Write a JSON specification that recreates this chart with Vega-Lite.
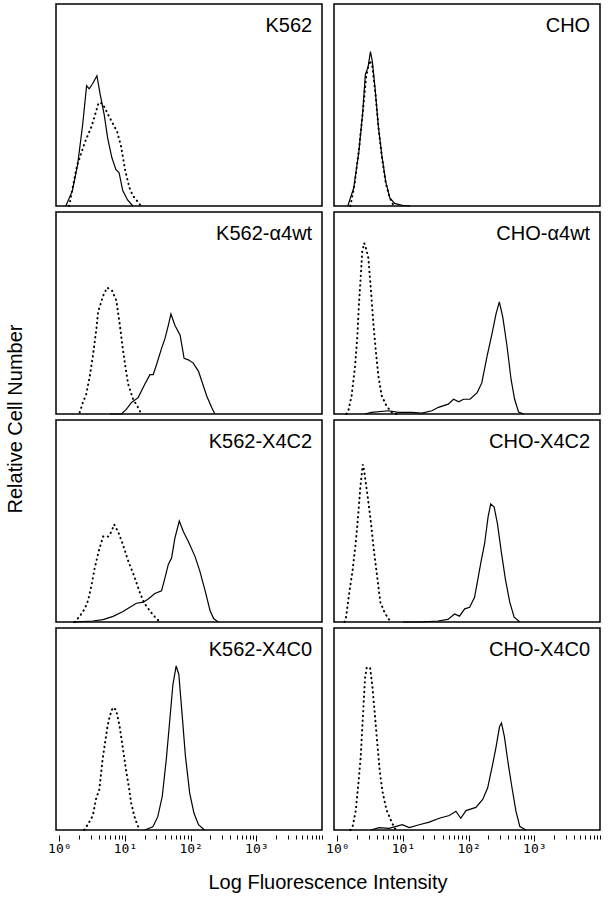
{
  "$schema": "https://vega.github.io/schema/vega-lite/v6.json",
  "padding": {"left": 5, "top": 3, "right": 2, "bottom": 2},
  "background": "white",
  "data": {"values": [
    {"cell":"K562","clone":"parent","panel":"K562","series":"solid","logI":0.10,"pct":0},
    {"cell":"K562","clone":"parent","panel":"K562","series":"solid","logI":0.20,"pct":7.6},
    {"cell":"K562","clone":"parent","panel":"K562","series":"solid","logI":0.28,"pct":20.6},
    {"cell":"K562","clone":"parent","panel":"K562","series":"solid","logI":0.355,"pct":40},
    {"cell":"K562","clone":"parent","panel":"K562","series":"solid","logI":0.416,"pct":59.5},
    {"cell":"K562","clone":"parent","panel":"K562","series":"solid","logI":0.456,"pct":58},
    {"cell":"K562","clone":"parent","panel":"K562","series":"solid","logI":0.507,"pct":60.5},
    {"cell":"K562","clone":"parent","panel":"K562","series":"solid","logI":0.573,"pct":64.5},
    {"cell":"K562","clone":"parent","panel":"K562","series":"solid","logI":0.624,"pct":55},
    {"cell":"K562","clone":"parent","panel":"K562","series":"solid","logI":0.685,"pct":45},
    {"cell":"K562","clone":"parent","panel":"K562","series":"solid","logI":0.736,"pct":33.7},
    {"cell":"K562","clone":"parent","panel":"K562","series":"solid","logI":0.80,"pct":24},
    {"cell":"K562","clone":"parent","panel":"K562","series":"solid","logI":0.863,"pct":18},
    {"cell":"K562","clone":"parent","panel":"K562","series":"solid","logI":0.91,"pct":16.6},
    {"cell":"K562","clone":"parent","panel":"K562","series":"solid","logI":0.966,"pct":7.6},
    {"cell":"K562","clone":"parent","panel":"K562","series":"solid","logI":1.04,"pct":3},
    {"cell":"K562","clone":"parent","panel":"K562","series":"solid","logI":1.12,"pct":0},
    {"cell":"K562","clone":"parent","panel":"K562","series":"dotted","logI":0.15,"pct":0},
    {"cell":"K562","clone":"parent","panel":"K562","series":"dotted","logI":0.268,"pct":19.8},
    {"cell":"K562","clone":"parent","panel":"K562","series":"dotted","logI":0.395,"pct":32},
    {"cell":"K562","clone":"parent","panel":"K562","series":"dotted","logI":0.492,"pct":39.4},
    {"cell":"K562","clone":"parent","panel":"K562","series":"dotted","logI":0.60,"pct":51.2},
    {"cell":"K562","clone":"parent","panel":"K562","series":"dotted","logI":0.66,"pct":50.7},
    {"cell":"K562","clone":"parent","panel":"K562","series":"dotted","logI":0.76,"pct":44.2},
    {"cell":"K562","clone":"parent","panel":"K562","series":"dotted","logI":0.88,"pct":36.9},
    {"cell":"K562","clone":"parent","panel":"K562","series":"dotted","logI":0.94,"pct":29.6},
    {"cell":"K562","clone":"parent","panel":"K562","series":"dotted","logI":1.005,"pct":17.4},
    {"cell":"K562","clone":"parent","panel":"K562","series":"dotted","logI":1.066,"pct":9.3},
    {"cell":"K562","clone":"parent","panel":"K562","series":"dotted","logI":1.118,"pct":5.2},
    {"cell":"K562","clone":"parent","panel":"K562","series":"dotted","logI":1.195,"pct":2},
    {"cell":"K562","clone":"parent","panel":"K562","series":"dotted","logI":1.245,"pct":0},

    {"cell":"CHO","clone":"parent","panel":"CHO","series":"solid","logI":0.16,"pct":0},
    {"cell":"CHO","clone":"parent","panel":"CHO","series":"solid","logI":0.25,"pct":8.9},
    {"cell":"CHO","clone":"parent","panel":"CHO","series":"solid","logI":0.328,"pct":26.8},
    {"cell":"CHO","clone":"parent","panel":"CHO","series":"solid","logI":0.387,"pct":46.3},
    {"cell":"CHO","clone":"parent","panel":"CHO","series":"solid","logI":0.427,"pct":65},
    {"cell":"CHO","clone":"parent","panel":"CHO","series":"solid","logI":0.47,"pct":69},
    {"cell":"CHO","clone":"parent","panel":"CHO","series":"solid","logI":0.505,"pct":76.4},
    {"cell":"CHO","clone":"parent","panel":"CHO","series":"solid","logI":0.534,"pct":71.6},
    {"cell":"CHO","clone":"parent","panel":"CHO","series":"solid","logI":0.577,"pct":57.7},
    {"cell":"CHO","clone":"parent","panel":"CHO","series":"solid","logI":0.624,"pct":39.8},
    {"cell":"CHO","clone":"parent","panel":"CHO","series":"solid","logI":0.678,"pct":25.2},
    {"cell":"CHO","clone":"parent","panel":"CHO","series":"solid","logI":0.737,"pct":12.2},
    {"cell":"CHO","clone":"parent","panel":"CHO","series":"solid","logI":0.80,"pct":4},
    {"cell":"CHO","clone":"parent","panel":"CHO","series":"solid","logI":0.873,"pct":1.3},
    {"cell":"CHO","clone":"parent","panel":"CHO","series":"solid","logI":0.99,"pct":0.3},
    {"cell":"CHO","clone":"parent","panel":"CHO","series":"solid","logI":1.11,"pct":0},
    {"cell":"CHO","clone":"parent","panel":"CHO","series":"dotted","logI":0.2,"pct":0},
    {"cell":"CHO","clone":"parent","panel":"CHO","series":"dotted","logI":0.26,"pct":10},
    {"cell":"CHO","clone":"parent","panel":"CHO","series":"dotted","logI":0.33,"pct":28},
    {"cell":"CHO","clone":"parent","panel":"CHO","series":"dotted","logI":0.39,"pct":47},
    {"cell":"CHO","clone":"parent","panel":"CHO","series":"dotted","logI":0.44,"pct":64},
    {"cell":"CHO","clone":"parent","panel":"CHO","series":"dotted","logI":0.49,"pct":72},
    {"cell":"CHO","clone":"parent","panel":"CHO","series":"dotted","logI":0.53,"pct":70},
    {"cell":"CHO","clone":"parent","panel":"CHO","series":"dotted","logI":0.58,"pct":56},
    {"cell":"CHO","clone":"parent","panel":"CHO","series":"dotted","logI":0.63,"pct":38},
    {"cell":"CHO","clone":"parent","panel":"CHO","series":"dotted","logI":0.68,"pct":24},
    {"cell":"CHO","clone":"parent","panel":"CHO","series":"dotted","logI":0.74,"pct":11},
    {"cell":"CHO","clone":"parent","panel":"CHO","series":"dotted","logI":0.80,"pct":4},
    {"cell":"CHO","clone":"parent","panel":"CHO","series":"dotted","logI":0.86,"pct":0},

    {"cell":"K562","clone":"α4wt","panel":"K562-α4wt","series":"solid","logI":0.77,"pct":0},
    {"cell":"K562","clone":"α4wt","panel":"K562-α4wt","series":"solid","logI":0.947,"pct":0},
    {"cell":"K562","clone":"α4wt","panel":"K562-α4wt","series":"solid","logI":1.023,"pct":2.4},
    {"cell":"K562","clone":"α4wt","panel":"K562-α4wt","series":"solid","logI":1.10,"pct":5.7},
    {"cell":"K562","clone":"α4wt","panel":"K562-α4wt","series":"solid","logI":1.20,"pct":8.1},
    {"cell":"K562","clone":"α4wt","panel":"K562-α4wt","series":"solid","logI":1.30,"pct":14.6},
    {"cell":"K562","clone":"α4wt","panel":"K562-α4wt","series":"solid","logI":1.38,"pct":19.5},
    {"cell":"K562","clone":"α4wt","panel":"K562-α4wt","series":"solid","logI":1.43,"pct":19.5},
    {"cell":"K562","clone":"α4wt","panel":"K562-α4wt","series":"solid","logI":1.48,"pct":24.4},
    {"cell":"K562","clone":"α4wt","panel":"K562-α4wt","series":"solid","logI":1.557,"pct":32.5},
    {"cell":"K562","clone":"α4wt","panel":"K562-α4wt","series":"solid","logI":1.61,"pct":37.4},
    {"cell":"K562","clone":"α4wt","panel":"K562-α4wt","series":"solid","logI":1.66,"pct":43.9},
    {"cell":"K562","clone":"α4wt","panel":"K562-α4wt","series":"solid","logI":1.70,"pct":49.5},
    {"cell":"K562","clone":"α4wt","panel":"K562-α4wt","series":"solid","logI":1.76,"pct":43.9},
    {"cell":"K562","clone":"α4wt","panel":"K562-α4wt","series":"solid","logI":1.84,"pct":39},
    {"cell":"K562","clone":"α4wt","panel":"K562-α4wt","series":"solid","logI":1.90,"pct":27.6},
    {"cell":"K562","clone":"α4wt","panel":"K562-α4wt","series":"solid","logI":1.965,"pct":26.8},
    {"cell":"K562","clone":"α4wt","panel":"K562-α4wt","series":"solid","logI":2.04,"pct":25.2},
    {"cell":"K562","clone":"α4wt","panel":"K562-α4wt","series":"solid","logI":2.12,"pct":21.1},
    {"cell":"K562","clone":"α4wt","panel":"K562-α4wt","series":"solid","logI":2.17,"pct":16.2},
    {"cell":"K562","clone":"α4wt","panel":"K562-α4wt","series":"solid","logI":2.245,"pct":8.9},
    {"cell":"K562","clone":"α4wt","panel":"K562-α4wt","series":"solid","logI":2.32,"pct":3.2},
    {"cell":"K562","clone":"α4wt","panel":"K562-α4wt","series":"solid","logI":2.37,"pct":0},
    {"cell":"K562","clone":"α4wt","panel":"K562-α4wt","series":"dotted","logI":0.31,"pct":0.8},
    {"cell":"K562","clone":"α4wt","panel":"K562-α4wt","series":"dotted","logI":0.36,"pct":5.7},
    {"cell":"K562","clone":"α4wt","panel":"K562-α4wt","series":"dotted","logI":0.41,"pct":9.8},
    {"cell":"K562","clone":"α4wt","panel":"K562-α4wt","series":"dotted","logI":0.46,"pct":17.9},
    {"cell":"K562","clone":"α4wt","panel":"K562-α4wt","series":"dotted","logI":0.51,"pct":28.4},
    {"cell":"K562","clone":"α4wt","panel":"K562-α4wt","series":"dotted","logI":0.565,"pct":42.2},
    {"cell":"K562","clone":"α4wt","panel":"K562-α4wt","series":"dotted","logI":0.59,"pct":50.4},
    {"cell":"K562","clone":"α4wt","panel":"K562-α4wt","series":"dotted","logI":0.667,"pct":58.5},
    {"cell":"K562","clone":"α4wt","panel":"K562-α4wt","series":"dotted","logI":0.728,"pct":62.6},
    {"cell":"K562","clone":"α4wt","panel":"K562-α4wt","series":"dotted","logI":0.805,"pct":61},
    {"cell":"K562","clone":"α4wt","panel":"K562-α4wt","series":"dotted","logI":0.87,"pct":56.1},
    {"cell":"K562","clone":"α4wt","panel":"K562-α4wt","series":"dotted","logI":0.92,"pct":44.7},
    {"cell":"K562","clone":"α4wt","panel":"K562-α4wt","series":"dotted","logI":0.96,"pct":34.1},
    {"cell":"K562","clone":"α4wt","panel":"K562-α4wt","series":"dotted","logI":1.01,"pct":22.7},
    {"cell":"K562","clone":"α4wt","panel":"K562-α4wt","series":"dotted","logI":1.05,"pct":14.6},
    {"cell":"K562","clone":"α4wt","panel":"K562-α4wt","series":"dotted","logI":1.125,"pct":7.3},
    {"cell":"K562","clone":"α4wt","panel":"K562-α4wt","series":"dotted","logI":1.20,"pct":3.2},
    {"cell":"K562","clone":"α4wt","panel":"K562-α4wt","series":"dotted","logI":1.25,"pct":0},

    {"cell":"CHO","clone":"α4wt","panel":"CHO-α4wt","series":"solid","logI":0.42,"pct":0},
    {"cell":"CHO","clone":"α4wt","panel":"CHO-α4wt","series":"solid","logI":0.52,"pct":0.8},
    {"cell":"CHO","clone":"α4wt","panel":"CHO-α4wt","series":"solid","logI":0.78,"pct":1.6},
    {"cell":"CHO","clone":"α4wt","panel":"CHO-α4wt","series":"solid","logI":0.93,"pct":0.8},
    {"cell":"CHO","clone":"α4wt","panel":"CHO-α4wt","series":"solid","logI":1.13,"pct":0.8},
    {"cell":"CHO","clone":"α4wt","panel":"CHO-α4wt","series":"solid","logI":1.29,"pct":0.4},
    {"cell":"CHO","clone":"α4wt","panel":"CHO-α4wt","series":"solid","logI":1.44,"pct":1.6},
    {"cell":"CHO","clone":"α4wt","panel":"CHO-α4wt","series":"solid","logI":1.54,"pct":3.3},
    {"cell":"CHO","clone":"α4wt","panel":"CHO-α4wt","series":"solid","logI":1.69,"pct":4.9},
    {"cell":"CHO","clone":"α4wt","panel":"CHO-α4wt","series":"solid","logI":1.77,"pct":7.3},
    {"cell":"CHO","clone":"α4wt","panel":"CHO-α4wt","series":"solid","logI":1.85,"pct":6},
    {"cell":"CHO","clone":"α4wt","panel":"CHO-α4wt","series":"solid","logI":1.92,"pct":7.3},
    {"cell":"CHO","clone":"α4wt","panel":"CHO-α4wt","series":"solid","logI":2.02,"pct":7.3},
    {"cell":"CHO","clone":"α4wt","panel":"CHO-α4wt","series":"solid","logI":2.13,"pct":10.6},
    {"cell":"CHO","clone":"α4wt","panel":"CHO-α4wt","series":"solid","logI":2.20,"pct":15.4},
    {"cell":"CHO","clone":"α4wt","panel":"CHO-α4wt","series":"solid","logI":2.28,"pct":28.5},
    {"cell":"CHO","clone":"α4wt","panel":"CHO-α4wt","series":"solid","logI":2.356,"pct":39.8},
    {"cell":"CHO","clone":"α4wt","panel":"CHO-α4wt","series":"solid","logI":2.417,"pct":49.6},
    {"cell":"CHO","clone":"α4wt","panel":"CHO-α4wt","series":"solid","logI":2.467,"pct":55.5},
    {"cell":"CHO","clone":"α4wt","panel":"CHO-α4wt","series":"solid","logI":2.52,"pct":48},
    {"cell":"CHO","clone":"α4wt","panel":"CHO-α4wt","series":"solid","logI":2.585,"pct":33.4},
    {"cell":"CHO","clone":"α4wt","panel":"CHO-α4wt","series":"solid","logI":2.646,"pct":17.1},
    {"cell":"CHO","clone":"α4wt","panel":"CHO-α4wt","series":"solid","logI":2.70,"pct":7.3},
    {"cell":"CHO","clone":"α4wt","panel":"CHO-α4wt","series":"solid","logI":2.76,"pct":1},
    {"cell":"CHO","clone":"α4wt","panel":"CHO-α4wt","series":"solid","logI":2.84,"pct":0},
    {"cell":"CHO","clone":"α4wt","panel":"CHO-α4wt","series":"dotted","logI":0.14,"pct":0},
    {"cell":"CHO","clone":"α4wt","panel":"CHO-α4wt","series":"dotted","logI":0.168,"pct":1.6},
    {"cell":"CHO","clone":"α4wt","panel":"CHO-α4wt","series":"dotted","logI":0.218,"pct":9},
    {"cell":"CHO","clone":"α4wt","panel":"CHO-α4wt","series":"dotted","logI":0.27,"pct":23.6},
    {"cell":"CHO","clone":"α4wt","panel":"CHO-α4wt","series":"dotted","logI":0.305,"pct":38.2},
    {"cell":"CHO","clone":"α4wt","panel":"CHO-α4wt","series":"dotted","logI":0.33,"pct":54.5},
    {"cell":"CHO","clone":"α4wt","panel":"CHO-α4wt","series":"dotted","logI":0.356,"pct":67.5},
    {"cell":"CHO","clone":"α4wt","panel":"CHO-α4wt","series":"dotted","logI":0.38,"pct":80.5},
    {"cell":"CHO","clone":"α4wt","panel":"CHO-α4wt","series":"dotted","logI":0.41,"pct":84.6},
    {"cell":"CHO","clone":"α4wt","panel":"CHO-α4wt","series":"dotted","logI":0.437,"pct":82.1},
    {"cell":"CHO","clone":"α4wt","panel":"CHO-α4wt","series":"dotted","logI":0.473,"pct":77.3},
    {"cell":"CHO","clone":"α4wt","panel":"CHO-α4wt","series":"dotted","logI":0.513,"pct":61},
    {"cell":"CHO","clone":"α4wt","panel":"CHO-α4wt","series":"dotted","logI":0.55,"pct":44.7},
    {"cell":"CHO","clone":"α4wt","panel":"CHO-α4wt","series":"dotted","logI":0.585,"pct":31.7},
    {"cell":"CHO","clone":"α4wt","panel":"CHO-α4wt","series":"dotted","logI":0.626,"pct":18.7},
    {"cell":"CHO","clone":"α4wt","panel":"CHO-α4wt","series":"dotted","logI":0.677,"pct":9},
    {"cell":"CHO","clone":"α4wt","panel":"CHO-α4wt","series":"dotted","logI":0.753,"pct":3.8},
    {"cell":"CHO","clone":"α4wt","panel":"CHO-α4wt","series":"dotted","logI":0.83,"pct":0.8},
    {"cell":"CHO","clone":"α4wt","panel":"CHO-α4wt","series":"dotted","logI":0.9,"pct":0},

    {"cell":"K562","clone":"X4C2","panel":"K562-X4C2","series":"solid","logI":0.21,"pct":0},
    {"cell":"K562","clone":"X4C2","panel":"K562-X4C2","series":"solid","logI":0.51,"pct":0.5},
    {"cell":"K562","clone":"X4C2","panel":"K562-X4C2","series":"solid","logI":0.667,"pct":1.2},
    {"cell":"K562","clone":"X4C2","panel":"K562-X4C2","series":"solid","logI":0.82,"pct":2.8},
    {"cell":"K562","clone":"X4C2","panel":"K562-X4C2","series":"solid","logI":0.97,"pct":5.2},
    {"cell":"K562","clone":"X4C2","panel":"K562-X4C2","series":"solid","logI":1.075,"pct":7.3},
    {"cell":"K562","clone":"X4C2","panel":"K562-X4C2","series":"solid","logI":1.175,"pct":9.3},
    {"cell":"K562","clone":"X4C2","panel":"K562-X4C2","series":"solid","logI":1.28,"pct":9.8},
    {"cell":"K562","clone":"X4C2","panel":"K562-X4C2","series":"solid","logI":1.354,"pct":11.4},
    {"cell":"K562","clone":"X4C2","panel":"K562-X4C2","series":"solid","logI":1.455,"pct":14.1},
    {"cell":"K562","clone":"X4C2","panel":"K562-X4C2","series":"solid","logI":1.557,"pct":15.5},
    {"cell":"K562","clone":"X4C2","panel":"K562-X4C2","series":"solid","logI":1.61,"pct":22},
    {"cell":"K562","clone":"X4C2","panel":"K562-X4C2","series":"solid","logI":1.66,"pct":28.5},
    {"cell":"K562","clone":"X4C2","panel":"K562-X4C2","series":"solid","logI":1.71,"pct":31.7},
    {"cell":"K562","clone":"X4C2","panel":"K562-X4C2","series":"solid","logI":1.76,"pct":41.5},
    {"cell":"K562","clone":"X4C2","panel":"K562-X4C2","series":"solid","logI":1.827,"pct":50},
    {"cell":"K562","clone":"X4C2","panel":"K562-X4C2","series":"solid","logI":1.89,"pct":44.7},
    {"cell":"K562","clone":"X4C2","panel":"K562-X4C2","series":"solid","logI":1.965,"pct":39.9},
    {"cell":"K562","clone":"X4C2","panel":"K562-X4C2","series":"solid","logI":2.066,"pct":32.5},
    {"cell":"K562","clone":"X4C2","panel":"K562-X4C2","series":"solid","logI":2.14,"pct":25.2},
    {"cell":"K562","clone":"X4C2","panel":"K562-X4C2","series":"solid","logI":2.22,"pct":15.5},
    {"cell":"K562","clone":"X4C2","panel":"K562-X4C2","series":"solid","logI":2.295,"pct":5.7},
    {"cell":"K562","clone":"X4C2","panel":"K562-X4C2","series":"solid","logI":2.35,"pct":1.7},
    {"cell":"K562","clone":"X4C2","panel":"K562-X4C2","series":"solid","logI":2.42,"pct":0},
    {"cell":"K562","clone":"X4C2","panel":"K562-X4C2","series":"dotted","logI":0.234,"pct":0},
    {"cell":"K562","clone":"X4C2","panel":"K562-X4C2","series":"dotted","logI":0.31,"pct":2.8},
    {"cell":"K562","clone":"X4C2","panel":"K562-X4C2","series":"dotted","logI":0.386,"pct":6.5},
    {"cell":"K562","clone":"X4C2","panel":"K562-X4C2","series":"dotted","logI":0.438,"pct":10.6},
    {"cell":"K562","clone":"X4C2","panel":"K562-X4C2","series":"dotted","logI":0.489,"pct":17.9},
    {"cell":"K562","clone":"X4C2","panel":"K562-X4C2","series":"dotted","logI":0.54,"pct":26.8},
    {"cell":"K562","clone":"X4C2","panel":"K562-X4C2","series":"dotted","logI":0.60,"pct":35},
    {"cell":"K562","clone":"X4C2","panel":"K562-X4C2","series":"dotted","logI":0.667,"pct":42.3},
    {"cell":"K562","clone":"X4C2","panel":"K562-X4C2","series":"dotted","logI":0.743,"pct":42.3},
    {"cell":"K562","clone":"X4C2","panel":"K562-X4C2","series":"dotted","logI":0.794,"pct":44.7},
    {"cell":"K562","clone":"X4C2","panel":"K562-X4C2","series":"dotted","logI":0.835,"pct":48.3},
    {"cell":"K562","clone":"X4C2","panel":"K562-X4C2","series":"dotted","logI":0.896,"pct":44.7},
    {"cell":"K562","clone":"X4C2","panel":"K562-X4C2","series":"dotted","logI":0.97,"pct":38.2},
    {"cell":"K562","clone":"X4C2","panel":"K562-X4C2","series":"dotted","logI":1.05,"pct":30.1},
    {"cell":"K562","clone":"X4C2","panel":"K562-X4C2","series":"dotted","logI":1.14,"pct":22.8},
    {"cell":"K562","clone":"X4C2","panel":"K562-X4C2","series":"dotted","logI":1.226,"pct":14.6},
    {"cell":"K562","clone":"X4C2","panel":"K562-X4C2","series":"dotted","logI":1.30,"pct":9},
    {"cell":"K562","clone":"X4C2","panel":"K562-X4C2","series":"dotted","logI":1.394,"pct":4.9},
    {"cell":"K562","clone":"X4C2","panel":"K562-X4C2","series":"dotted","logI":1.49,"pct":1.2},
    {"cell":"K562","clone":"X4C2","panel":"K562-X4C2","series":"dotted","logI":1.55,"pct":0},

    {"cell":"CHO","clone":"X4C2","panel":"CHO-X4C2","series":"solid","logI":1.0,"pct":0},
    {"cell":"CHO","clone":"X4C2","panel":"CHO-X4C2","series":"solid","logI":1.28,"pct":0},
    {"cell":"CHO","clone":"X4C2","panel":"CHO-X4C2","series":"solid","logI":1.53,"pct":0.5},
    {"cell":"CHO","clone":"X4C2","panel":"CHO-X4C2","series":"solid","logI":1.685,"pct":1.3},
    {"cell":"CHO","clone":"X4C2","panel":"CHO-X4C2","series":"solid","logI":1.786,"pct":4},
    {"cell":"CHO","clone":"X4C2","panel":"CHO-X4C2","series":"solid","logI":1.86,"pct":2.9},
    {"cell":"CHO","clone":"X4C2","panel":"CHO-X4C2","series":"solid","logI":1.94,"pct":6.5},
    {"cell":"CHO","clone":"X4C2","panel":"CHO-X4C2","series":"solid","logI":2.015,"pct":7.3},
    {"cell":"CHO","clone":"X4C2","panel":"CHO-X4C2","series":"solid","logI":2.09,"pct":12.2},
    {"cell":"CHO","clone":"X4C2","panel":"CHO-X4C2","series":"solid","logI":2.14,"pct":21.1},
    {"cell":"CHO","clone":"X4C2","panel":"CHO-X4C2","series":"solid","logI":2.19,"pct":30.1},
    {"cell":"CHO","clone":"X4C2","panel":"CHO-X4C2","series":"solid","logI":2.244,"pct":39},
    {"cell":"CHO","clone":"X4C2","panel":"CHO-X4C2","series":"solid","logI":2.296,"pct":52},
    {"cell":"CHO","clone":"X4C2","panel":"CHO-X4C2","series":"solid","logI":2.336,"pct":58.5},
    {"cell":"CHO","clone":"X4C2","panel":"CHO-X4C2","series":"solid","logI":2.388,"pct":56.9},
    {"cell":"CHO","clone":"X4C2","panel":"CHO-X4C2","series":"solid","logI":2.438,"pct":48.8},
    {"cell":"CHO","clone":"X4C2","panel":"CHO-X4C2","series":"solid","logI":2.50,"pct":34.1},
    {"cell":"CHO","clone":"X4C2","panel":"CHO-X4C2","series":"solid","logI":2.56,"pct":21.1},
    {"cell":"CHO","clone":"X4C2","panel":"CHO-X4C2","series":"solid","logI":2.626,"pct":9.8},
    {"cell":"CHO","clone":"X4C2","panel":"CHO-X4C2","series":"solid","logI":2.693,"pct":2.4},
    {"cell":"CHO","clone":"X4C2","panel":"CHO-X4C2","series":"solid","logI":2.78,"pct":0},
    {"cell":"CHO","clone":"X4C2","panel":"CHO-X4C2","series":"dotted","logI":0.11,"pct":0},
    {"cell":"CHO","clone":"X4C2","panel":"CHO-X4C2","series":"dotted","logI":0.133,"pct":2.4},
    {"cell":"CHO","clone":"X4C2","panel":"CHO-X4C2","series":"dotted","logI":0.183,"pct":14.6},
    {"cell":"CHO","clone":"X4C2","panel":"CHO-X4C2","series":"dotted","logI":0.235,"pct":26},
    {"cell":"CHO","clone":"X4C2","panel":"CHO-X4C2","series":"dotted","logI":0.285,"pct":40.6},
    {"cell":"CHO","clone":"X4C2","panel":"CHO-X4C2","series":"dotted","logI":0.32,"pct":53.7},
    {"cell":"CHO","clone":"X4C2","panel":"CHO-X4C2","series":"dotted","logI":0.351,"pct":66.7},
    {"cell":"CHO","clone":"X4C2","panel":"CHO-X4C2","series":"dotted","logI":0.388,"pct":78},
    {"cell":"CHO","clone":"X4C2","panel":"CHO-X4C2","series":"dotted","logI":0.41,"pct":74.8},
    {"cell":"CHO","clone":"X4C2","panel":"CHO-X4C2","series":"dotted","logI":0.464,"pct":61.8},
    {"cell":"CHO","clone":"X4C2","panel":"CHO-X4C2","series":"dotted","logI":0.514,"pct":48.8},
    {"cell":"CHO","clone":"X4C2","panel":"CHO-X4C2","series":"dotted","logI":0.556,"pct":35.8},
    {"cell":"CHO","clone":"X4C2","panel":"CHO-X4C2","series":"dotted","logI":0.606,"pct":22.8},
    {"cell":"CHO","clone":"X4C2","panel":"CHO-X4C2","series":"dotted","logI":0.656,"pct":9.8},
    {"cell":"CHO","clone":"X4C2","panel":"CHO-X4C2","series":"dotted","logI":0.718,"pct":4.9},
    {"cell":"CHO","clone":"X4C2","panel":"CHO-X4C2","series":"dotted","logI":0.77,"pct":2},
    {"cell":"CHO","clone":"X4C2","panel":"CHO-X4C2","series":"dotted","logI":0.82,"pct":0},

    {"cell":"K562","clone":"X4C0","panel":"K562-X4C0","series":"solid","logI":1.30,"pct":0},
    {"cell":"K562","clone":"X4C0","panel":"K562-X4C0","series":"solid","logI":1.425,"pct":1.6},
    {"cell":"K562","clone":"X4C0","panel":"K562-X4C0","series":"solid","logI":1.50,"pct":6.6},
    {"cell":"K562","clone":"X4C0","panel":"K562-X4C0","series":"solid","logI":1.568,"pct":16.7},
    {"cell":"K562","clone":"X4C0","panel":"K562-X4C0","series":"solid","logI":1.63,"pct":35.2},
    {"cell":"K562","clone":"X4C0","panel":"K562-X4C0","series":"solid","logI":1.68,"pct":53.6},
    {"cell":"K562","clone":"X4C0","panel":"K562-X4C0","series":"solid","logI":1.73,"pct":72},
    {"cell":"K562","clone":"X4C0","panel":"K562-X4C0","series":"solid","logI":1.78,"pct":81.2},
    {"cell":"K562","clone":"X4C0","panel":"K562-X4C0","series":"solid","logI":1.82,"pct":77},
    {"cell":"K562","clone":"X4C0","panel":"K562-X4C0","series":"solid","logI":1.867,"pct":58.5},
    {"cell":"K562","clone":"X4C0","panel":"K562-X4C0","series":"solid","logI":1.92,"pct":36.8},
    {"cell":"K562","clone":"X4C0","panel":"K562-X4C0","series":"solid","logI":1.985,"pct":18.4},
    {"cell":"K562","clone":"X4C0","panel":"K562-X4C0","series":"solid","logI":2.05,"pct":8.4},
    {"cell":"K562","clone":"X4C0","panel":"K562-X4C0","series":"solid","logI":2.12,"pct":2.6},
    {"cell":"K562","clone":"X4C0","panel":"K562-X4C0","series":"solid","logI":2.21,"pct":0},
    {"cell":"K562","clone":"X4C0","panel":"K562-X4C0","series":"dotted","logI":0.38,"pct":0},
    {"cell":"K562","clone":"X4C0","panel":"K562-X4C0","series":"dotted","logI":0.447,"pct":3.4},
    {"cell":"K562","clone":"X4C0","panel":"K562-X4C0","series":"dotted","logI":0.51,"pct":7.1},
    {"cell":"K562","clone":"X4C0","panel":"K562-X4C0","series":"dotted","logI":0.56,"pct":15.4},
    {"cell":"K562","clone":"X4C0","panel":"K562-X4C0","series":"dotted","logI":0.61,"pct":20.1},
    {"cell":"K562","clone":"X4C0","panel":"K562-X4C0","series":"dotted","logI":0.66,"pct":35.2},
    {"cell":"K562","clone":"X4C0","panel":"K562-X4C0","series":"dotted","logI":0.70,"pct":43.9},
    {"cell":"K562","clone":"X4C0","panel":"K562-X4C0","series":"dotted","logI":0.737,"pct":51.9},
    {"cell":"K562","clone":"X4C0","panel":"K562-X4C0","series":"dotted","logI":0.774,"pct":56.9},
    {"cell":"K562","clone":"X4C0","panel":"K562-X4C0","series":"dotted","logI":0.814,"pct":60.6},
    {"cell":"K562","clone":"X4C0","panel":"K562-X4C0","series":"dotted","logI":0.865,"pct":59.5},
    {"cell":"K562","clone":"X4C0","panel":"K562-X4C0","series":"dotted","logI":0.916,"pct":51.9},
    {"cell":"K562","clone":"X4C0","panel":"K562-X4C0","series":"dotted","logI":0.966,"pct":41},
    {"cell":"K562","clone":"X4C0","panel":"K562-X4C0","series":"dotted","logI":1.018,"pct":29.3},
    {"cell":"K562","clone":"X4C0","panel":"K562-X4C0","series":"dotted","logI":1.058,"pct":21.7},
    {"cell":"K562","clone":"X4C0","panel":"K562-X4C0","series":"dotted","logI":1.094,"pct":13.4},
    {"cell":"K562","clone":"X4C0","panel":"K562-X4C0","series":"dotted","logI":1.145,"pct":6.6},
    {"cell":"K562","clone":"X4C0","panel":"K562-X4C0","series":"dotted","logI":1.195,"pct":2},
    {"cell":"K562","clone":"X4C0","panel":"K562-X4C0","series":"dotted","logI":1.24,"pct":0},

    {"cell":"CHO","clone":"X4C0","panel":"CHO-X4C0","series":"solid","logI":0.51,"pct":0},
    {"cell":"CHO","clone":"X4C0","panel":"CHO-X4C0","series":"solid","logI":0.636,"pct":1.2},
    {"cell":"CHO","clone":"X4C0","panel":"CHO-X4C0","series":"solid","logI":0.79,"pct":0.8},
    {"cell":"CHO","clone":"X4C0","panel":"CHO-X4C0","series":"solid","logI":0.99,"pct":2.6},
    {"cell":"CHO","clone":"X4C0","panel":"CHO-X4C0","series":"solid","logI":1.095,"pct":1.2},
    {"cell":"CHO","clone":"X4C0","panel":"CHO-X4C0","series":"solid","logI":1.247,"pct":2.6},
    {"cell":"CHO","clone":"X4C0","panel":"CHO-X4C0","series":"solid","logI":1.40,"pct":3.9},
    {"cell":"CHO","clone":"X4C0","panel":"CHO-X4C0","series":"solid","logI":1.553,"pct":5.8},
    {"cell":"CHO","clone":"X4C0","panel":"CHO-X4C0","series":"solid","logI":1.705,"pct":7.2},
    {"cell":"CHO","clone":"X4C0","panel":"CHO-X4C0","series":"solid","logI":1.806,"pct":9.3},
    {"cell":"CHO","clone":"X4C0","panel":"CHO-X4C0","series":"solid","logI":1.88,"pct":5.8},
    {"cell":"CHO","clone":"X4C0","panel":"CHO-X4C0","series":"solid","logI":1.96,"pct":9.6},
    {"cell":"CHO","clone":"X4C0","panel":"CHO-X4C0","series":"solid","logI":2.11,"pct":11.2},
    {"cell":"CHO","clone":"X4C0","panel":"CHO-X4C0","series":"solid","logI":2.214,"pct":15.1},
    {"cell":"CHO","clone":"X4C0","panel":"CHO-X4C0","series":"solid","logI":2.29,"pct":20.9},
    {"cell":"CHO","clone":"X4C0","panel":"CHO-X4C0","series":"solid","logI":2.366,"pct":32.6},
    {"cell":"CHO","clone":"X4C0","panel":"CHO-X4C0","series":"solid","logI":2.417,"pct":41},
    {"cell":"CHO","clone":"X4C0","panel":"CHO-X4C0","series":"solid","logI":2.47,"pct":51.1},
    {"cell":"CHO","clone":"X4C0","panel":"CHO-X4C0","series":"solid","logI":2.50,"pct":53},
    {"cell":"CHO","clone":"X4C0","panel":"CHO-X4C0","series":"solid","logI":2.545,"pct":46.1},
    {"cell":"CHO","clone":"X4C0","panel":"CHO-X4C0","series":"solid","logI":2.595,"pct":34.4},
    {"cell":"CHO","clone":"X4C0","panel":"CHO-X4C0","series":"solid","logI":2.66,"pct":20.9},
    {"cell":"CHO","clone":"X4C0","panel":"CHO-X4C0","series":"solid","logI":2.72,"pct":9.3},
    {"cell":"CHO","clone":"X4C0","panel":"CHO-X4C0","series":"solid","logI":2.78,"pct":1.7},
    {"cell":"CHO","clone":"X4C0","panel":"CHO-X4C0","series":"solid","logI":2.875,"pct":0},
    {"cell":"CHO","clone":"X4C0","panel":"CHO-X4C0","series":"dotted","logI":0.2,"pct":0},
    {"cell":"CHO","clone":"X4C0","panel":"CHO-X4C0","series":"dotted","logI":0.23,"pct":1.2},
    {"cell":"CHO","clone":"X4C0","panel":"CHO-X4C0","series":"dotted","logI":0.28,"pct":9.3},
    {"cell":"CHO","clone":"X4C0","panel":"CHO-X4C0","series":"dotted","logI":0.32,"pct":22.6},
    {"cell":"CHO","clone":"X4C0","panel":"CHO-X4C0","series":"dotted","logI":0.356,"pct":36},
    {"cell":"CHO","clone":"X4C0","panel":"CHO-X4C0","series":"dotted","logI":0.39,"pct":56.1},
    {"cell":"CHO","clone":"X4C0","panel":"CHO-X4C0","series":"dotted","logI":0.423,"pct":75.4},
    {"cell":"CHO","clone":"X4C0","panel":"CHO-X4C0","series":"dotted","logI":0.448,"pct":80.4},
    {"cell":"CHO","clone":"X4C0","panel":"CHO-X4C0","series":"dotted","logI":0.50,"pct":80.4},
    {"cell":"CHO","clone":"X4C0","panel":"CHO-X4C0","series":"dotted","logI":0.534,"pct":71.2},
    {"cell":"CHO","clone":"X4C0","panel":"CHO-X4C0","series":"dotted","logI":0.575,"pct":56.1},
    {"cell":"CHO","clone":"X4C0","panel":"CHO-X4C0","series":"dotted","logI":0.61,"pct":42.7},
    {"cell":"CHO","clone":"X4C0","panel":"CHO-X4C0","series":"dotted","logI":0.646,"pct":29.4},
    {"cell":"CHO","clone":"X4C0","panel":"CHO-X4C0","series":"dotted","logI":0.687,"pct":19.3},
    {"cell":"CHO","clone":"X4C0","panel":"CHO-X4C0","series":"dotted","logI":0.748,"pct":10.1},
    {"cell":"CHO","clone":"X4C0","panel":"CHO-X4C0","series":"dotted","logI":0.814,"pct":5},
    {"cell":"CHO","clone":"X4C0","panel":"CHO-X4C0","series":"dotted","logI":0.87,"pct":1},
    {"cell":"CHO","clone":"X4C0","panel":"CHO-X4C0","series":"dotted","logI":0.9,"pct":0}
  ]},
  "facet": {
    "row": {"field": "clone", "type": "nominal", "sort": ["parent", "α4wt", "X4C2", "X4C0"],
      "header": {"title": "Relative Cell Number", "labels": false, "titleFont": "Liberation Sans", "titleFontSize": 20, "titleFontWeight": "normal", "titleColor": "black", "titlePadding": 19, "labelPadding": 0}},
    "column": {"field": "cell", "type": "nominal", "sort": ["K562", "CHO"],
      "header": {"title": "Log Fluorescence Intensity", "titleOrient": "bottom", "labels": false, "titleFont": "Liberation Sans", "titleFontSize": 20, "titleFontWeight": "normal", "titleColor": "black", "titlePadding": 8, "labelPadding": 0}}
  },
  "spacing": {"row": 0, "column": 10},
  "resolve": {"axis": {"y": "independent"}},
  "spec": {
    "width": 266,
    "height": 202,
    "resolve": {"axis": {"x": "independent"}},
    "layer": [
      {
        "transform": [{"filter": "datum.series == 'dotted'"}],
        "mark": {"type": "line", "color": "black", "strokeWidth": 2, "strokeDash": [0.4, 4.4], "strokeCap": "round"},
        "encoding": {
          "x": {"field": "logI", "type": "quantitative",
            "scale": {"domain": [-0.05, 4.0], "nice": false, "zero": false},
            "axis": {"orient": "bottom", "title": null, "domain": false, "grid": false, "labels": false,
              "values": [0.301, 0.477, 0.602, 0.699, 0.778, 0.845, 0.903, 0.954, 1.301, 1.477, 1.602, 1.699, 1.778, 1.845, 1.903, 1.954, 2.301, 2.477, 2.602, 2.699, 2.778, 2.845, 2.903, 2.954, 3.301, 3.477, 3.602, 3.699, 3.778, 3.845, 3.903, 3.954, 4],
              "tickColor": "black", "tickWidth": 1, "tickSize": 4}},
          "y": {"field": "pct", "type": "quantitative",
            "scale": {"domain": [0, 100], "nice": false},
            "axis": {"title": null, "domain": false, "grid": false, "labels": false, "values": [0, 20, 40, 60, 80, 100], "tickSize": 5, "tickColor": "black", "tickWidth": 1}}
        }
      },
      {
        "transform": [{"filter": "datum.series == 'solid'"}],
        "mark": {"type": "line", "color": "black", "strokeWidth": 1.2},
        "encoding": {
          "x": {"field": "logI", "type": "quantitative",
            "axis": {"orient": "bottom", "title": null, "domain": false, "grid": false,
              "values": [0, 1, 2, 3],
              "labelExpr": "datum.value < 0.5 ? '10⁰' : datum.value < 1.5 ? '10¹' : datum.value < 2.5 ? '10²' : '10³'",
              "labelFont": "DejaVu Sans Mono", "labelFontSize": 13, "labelColor": "black", "labelPadding": 1,
              "tickColor": "black", "tickWidth": 1, "tickSize": 6,
              "labelOverlap": false, "labelFlush": false}},
          "y": {"field": "pct", "type": "quantitative"}
        }
      },
      {
        "transform": [{"aggregate": [{"op": "count", "as": "n"}], "groupby": ["panel", "cell", "clone"]}],
        "mark": {"type": "text", "align": "right", "baseline": "middle", "font": "Liberation Sans", "fontSize": 20, "color": "black"},
        "encoding": {
          "x": {"datum": 3.85, "type": "quantitative", "axis": null},
          "y": {"datum": 89, "type": "quantitative", "axis": null},
          "text": {"field": "panel", "type": "nominal"}
        }
      }
    ]
  },
  "config": {
    "view": {"stroke": "black", "strokeWidth": 1.5},
    "axis": {"labelColor": "black"}
  }
}
